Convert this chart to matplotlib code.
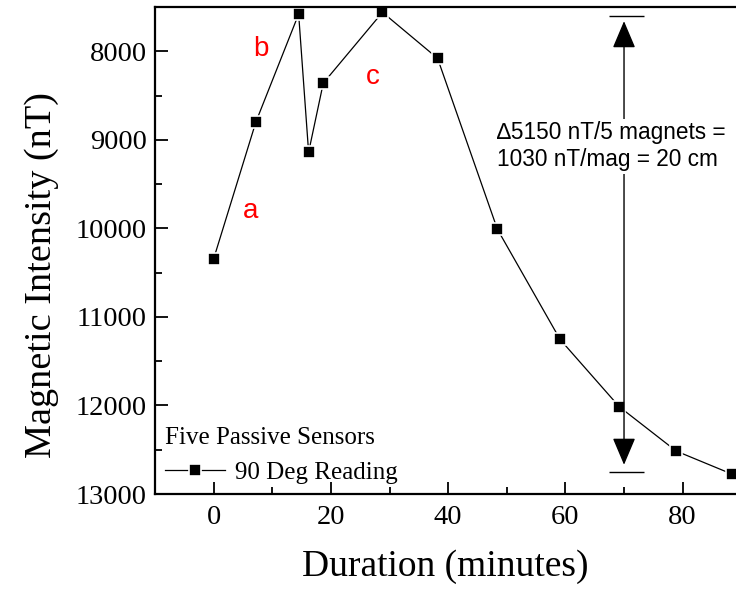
import matplotlib
matplotlib.use("Agg")
import matplotlib.pyplot as plt
from matplotlib.ticker import MultipleLocator

plt.rcParams.update({
    "font.family": "Liberation Serif",
    "xtick.direction": "in",
    "ytick.direction": "in",
})

# readings
duration = [0, 7.2, 14.5, 16.2, 18.7, 28.8, 38.2, 48.4, 59.1, 69.2, 78.9, 88.4]
intensity = [10345, 8800, 7580, 9140, 8360, 7560, 8080, 10010, 11255, 12015, 12515, 12775]

span_x = 70
span_top, span_bottom = 7600, 12750
tip_top, tip_bottom = 7660, 12670
span_text = "\u22065150 nT/5 magnets =\n1030 nT/mag = 20 cm"

region_labels = ["a", "b", "c"]
region_x = [6.3, 8.0, 27.1]
region_y = [9878, 8057, 8373]

fig = plt.figure(figsize=(7.36, 5.91), dpi=100)
ax = fig.add_axes([155/736, 97/591, 581/736, 487/591])

ax.plot(duration, intensity, color="black", lw=0.9, marker="s", ms=9,
        mfc="black", mec="white", mew=1.2, label="90 Deg Reading")

# span arrow with end bars
ax.annotate("", xy=(span_x, tip_top), xytext=(span_x, tip_bottom),
            arrowprops=dict(arrowstyle="<|-|>,head_length=1.7,head_width=0.72",
                            color="black", lw=1.0, shrinkA=0, shrinkB=0))
ax.hlines([span_top, span_bottom], span_x - 2.6, span_x + 3.4, color="black", lw=1.0)
ax.text(48.4, 9075, span_text, family="Liberation Sans", fontsize=16.3,
        ha="left", va="center", linespacing=1.22,
        bbox=dict(facecolor="white", edgecolor="none", pad=2))

for lab, lx, ly in zip(region_labels, region_x, region_y):
    ax.text(lx, ly, lab, color="red", family="Liberation Sans", fontsize=20,
            ha="center", va="baseline")

ax.set_xlim(-10, 89.1)
ax.set_ylim(13000, 7500)
ax.xaxis.set_major_locator(MultipleLocator(20))
ax.xaxis.set_minor_locator(MultipleLocator(10))
ax.yaxis.set_major_locator(MultipleLocator(1000))
ax.yaxis.set_minor_locator(MultipleLocator(500))
ax.tick_params(which="major", length=9, width=1.3, labelsize=20.5, pad=8)
ax.tick_params(axis="y", which="major", pad=6)
ax.tick_params(which="minor", length=5, width=1.3)
ax.tick_params(top=False, right=False, which="both")

ax.spines["right"].set_visible(False)
for s in ["left", "bottom", "top"]:
    ax.spines[s].set_linewidth(1.6)

ax.set_xlabel("Duration (minutes)", fontsize=27, labelpad=14)
ax.set_ylabel("Magnetic Intensity (nT)", fontsize=27.5)
ax.yaxis.set_label_coords(-0.165, 0.45)

leg = ax.legend(title="Five Passive Sensors", loc="lower left", frameon=False,
                fontsize=18, title_fontsize=18, handlelength=2.4,
                handletextpad=0.4, borderaxespad=0.2, borderpad=0.2)
leg._legend_box.align = "left"

fig.savefig("out.png", dpi=100)
